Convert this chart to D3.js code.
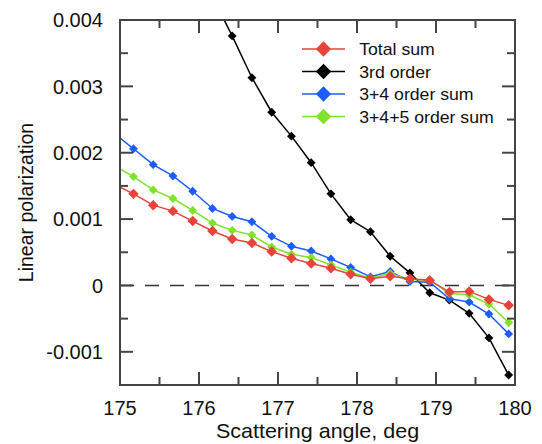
<!DOCTYPE html>
<html>
<head>
<meta charset="utf-8">
<script src="https://cdn.jsdelivr.net/npm/d3@7"></script>
<style>
  body { margin: 0; background: #fff; }
  svg { display: block; font-family: "Liberation Sans", Arial, sans-serif; }
</style>
</head>
<body>
<svg id="chart" width="542" height="444"></svg>
<script>
// scattering angles (deg); first one sits just left of the frame and is clipped
const angles = [174.92, 175.17, 175.42, 175.67, 175.92, 176.17, 176.42, 176.67, 176.92, 177.17, 177.42,
  177.67, 177.92, 178.17, 178.42, 178.67, 178.92, 179.17, 179.42, 179.67, 179.92];

// polarization values in units of 1e-3
const totalSum = [1.53, 1.38, 1.21, 1.12, 0.97, 0.82, 0.70, 0.64, 0.51, 0.41, 0.33,
  0.26, 0.17, 0.10, 0.14, 0.10, 0.08, -0.10, -0.09, -0.21, -0.30];
const order3 = [null, null, null, null, null, 4.35, 3.76, 3.13, 2.61, 2.25, 1.85,
  1.38, 0.99, 0.81, 0.44, 0.19, -0.11, -0.22, -0.42, -0.79, -1.35];
const sum34 = [2.30, 2.06, 1.82, 1.65, 1.42, 1.16, 1.04, 0.96, 0.74, 0.59, 0.52,
  0.40, 0.27, 0.13, 0.21, 0.06, 0.05, -0.20, -0.25, -0.43, -0.73];
const sum345 = [1.81, 1.64, 1.44, 1.31, 1.13, 0.94, 0.83, 0.76, 0.58, 0.47, 0.42,
  0.31, 0.20, 0.11, 0.18, 0.09, 0.08, -0.12, -0.14, -0.28, -0.56];

const seriesNames = ["Total sum", "3rd order", "3+4 order sum", "3+4+5 order sum"];
const seriesColors = ["#e8433a", "#000000", "#1d5cff", "#7fe22b"];
const seriesValues = [totalSum, order3, sum34, sum345];
// draw order: black under the coloured ones, red on top
const drawOrder = [1, 2, 3, 0];

const xTicks = [175, 176, 177, 178, 179, 180];
const yTicks = [-0.001, 0, 0.001, 0.002, 0.003, 0.004];

const svg = d3.select("#chart");
const margin = { left: 120, top: 20, right: 27, bottom: 59 };
const W = 542 - margin.left - margin.right,
  H = 444 - margin.top - margin.bottom;

const x = d3.scaleLinear().domain([175, 180]).range([0, W]);
const y = d3.scaleLinear().domain([-0.0015, 0.004]).range([H, 0]);

const g = svg.append("g").attr("transform", `translate(${margin.left},${margin.top})`);

svg.append("defs").append("clipPath").attr("id", "clip")
  .append("rect").attr("width", W).attr("height", H);

// zero line
g.append("line")
  .attr("x1", 0).attr("x2", W)
  .attr("y1", y(0)).attr("y2", y(0))
  .attr("stroke", "#333").attr("stroke-width", 1.5)
  .attr("stroke-dasharray", "14,11");

const plot = g.append("g").attr("clip-path", "url(#clip)");

const diamond = d3.symbol().type(d3.symbolDiamond2);

drawOrder.forEach(k => {
  const pts = angles.map((a, i) => ({ a, v: seriesValues[k][i] }))
    .filter(d => d.v !== null)
    .map(d => ({ a: d.a, v: d.v / 1000 }));
  const line = d3.line().x(d => x(d.a)).y(d => y(d.v));
  plot.append("path")
    .datum(pts)
    .attr("d", line)
    .attr("fill", "none")
    .attr("stroke", seriesColors[k])
    .attr("stroke-width", 1.5);
  plot.selectAll(null)
    .data(pts)
    .enter()
    .append("path")
    .attr("d", diamond.size(k === 0 ? 70 : 50))
    .attr("transform", d => `translate(${x(d.a)},${y(d.v)})`)
    .attr("fill", seriesColors[k]);
});

// frame and ticks (inward on all sides)
const axisColor = "#444";
g.append("rect")
  .attr("width", W).attr("height", H)
  .attr("fill", "none").attr("stroke", axisColor).attr("stroke-width", 2);

const xMinor = d3.range(175, 180.01, 0.5);
const yMinor = d3.range(-0.0015, 0.00401, 0.0005);
const isMajorX = v => Math.abs(v - Math.round(v)) < 1e-6;
const isMajorY = v => Math.abs(v * 1000 - Math.round(v * 1000)) < 1e-6;

xMinor.forEach(v => {
  const len = isMajorX(v) ? 13 : 8;
  g.append("line").attr("x1", x(v)).attr("x2", x(v)).attr("y1", H).attr("y2", H - len)
    .attr("stroke", axisColor).attr("stroke-width", 2);
  g.append("line").attr("x1", x(v)).attr("x2", x(v)).attr("y1", 0).attr("y2", len)
    .attr("stroke", axisColor).attr("stroke-width", 2);
});
yMinor.forEach(v => {
  const len = isMajorY(v) ? 13 : 8;
  g.append("line").attr("x1", 0).attr("x2", len).attr("y1", y(v)).attr("y2", y(v))
    .attr("stroke", axisColor).attr("stroke-width", 2);
  g.append("line").attr("x1", W).attr("x2", W - len).attr("y1", y(v)).attr("y2", y(v))
    .attr("stroke", axisColor).attr("stroke-width", 2);
});

// tick labels
g.selectAll(".xl").data(xTicks).enter().append("text")
  .attr("x", d => x(d)).attr("y", H + 30)
  .attr("text-anchor", "middle")
  .attr("font-size", 20).attr("fill", "#111")
  .text(d => d);

g.selectAll(".yl").data(yTicks).enter().append("text")
  .attr("x", -17).attr("y", d => y(d))
  .attr("dy", "0.36em")
  .attr("text-anchor", "end")
  .attr("font-size", 20).attr("fill", "#111")
  .text(d => d === 0 ? "0" : d3.format(".3f")(d).replace("−", "-"));

// axis titles
g.append("text")
  .attr("transform", `translate(${W / 2},${H + 53}) scale(1.05,1)`)
  .attr("text-anchor", "middle")
  .attr("font-size", 20.5).attr("fill", "#111")
  .text("Scattering angle, deg");

g.append("text")
  .attr("transform", `translate(${-87},${H / 2}) rotate(-90)`)
  .attr("text-anchor", "middle")
  .attr("font-size", 19.5).attr("fill", "#111")
  .text("Linear polarization");

// legend
const legend = g.append("g").attr("transform", "translate(182,29)");
seriesNames.forEach((name, k) => {
  const row = legend.append("g").attr("transform", `translate(0,${k * 22.5})`);
  row.append("line").attr("x1", 0).attr("x2", 43)
    .attr("stroke", seriesColors[k]).attr("stroke-width", 1.5);
  row.append("path").attr("d", diamond.size(150))
    .attr("transform", "translate(21.5,0)")
    .attr("fill", seriesColors[k]);
  row.append("text").attr("x", 55).attr("dy", "0.36em")
    .attr("transform", "scale(1.04,1)")
    .attr("font-size", 17).attr("fill", "#111")
    .text(name);
});
</script>
</body>
</html>
